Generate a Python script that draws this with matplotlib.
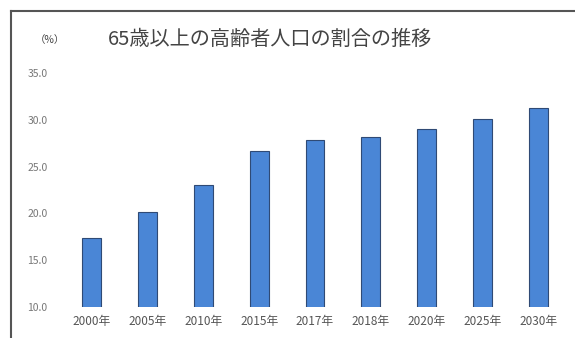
import matplotlib.pyplot as plt
from matplotlib.lines import Line2D

plt.rcParams['font.family'] = ['Noto Sans CJK JP', 'DejaVu Sans']

years = ['2000年', '2005年', '2010年', '2015年', '2017年', '2018年', '2020年', '2025年', '2030年']
ratio = [17.4, 20.2, 23.0, 26.7, 27.8, 28.2, 29.0, 30.1, 31.3]
yticks = [10.0, 15.0, 20.0, 25.0, 30.0, 35.0]


def main():
    fig = plt.figure(figsize=(5.75, 3.38), dpi=100)
    ax = fig.add_axes([0.1113, 0.0917, 0.873, 0.692])

    x = range(len(years))
    ax.bar(x, ratio, width=0.34, bottom=0, color='#4a86d6', edgecolor='#2f4a75', linewidth=0.8)

    ax.set_ylim(10, 35)
    ax.set_xlim(-0.5, len(years) - 0.5)
    ax.set_yticks(yticks)
    ax.set_yticklabels(['%.1f' % v for v in yticks], fontsize=7.5, color='#777777')
    ax.set_xticks(list(x))
    ax.set_xticklabels(years, fontsize=8.5, color='#555555')
    ax.tick_params(axis='both', length=0)
    ax.tick_params(axis='y', pad=12)
    ax.tick_params(axis='x', pad=6)
    for s in ax.spines.values():
        s.set_visible(False)

    fig.text(0.47, 0.882, '65歳以上の高齢者人口の割合の推移', ha='center', va='center',
             fontsize=14.5, color='#444444')
    fig.text(0.086, 0.882, '（%）', ha='center', va='center', fontsize=7.5, color='#444444')

    # frame round the chart
    fig.add_artist(Line2D([11 / 575, 1.0], [1 - 11 / 338, 1 - 11 / 338], color='#555555', lw=1.5))
    fig.add_artist(Line2D([11 / 575, 11 / 575], [0.0, 1 - 11 / 338], color='#555555', lw=1.5))

    fig.savefig('out.png', dpi=100)


if __name__ == '__main__':
    main()
